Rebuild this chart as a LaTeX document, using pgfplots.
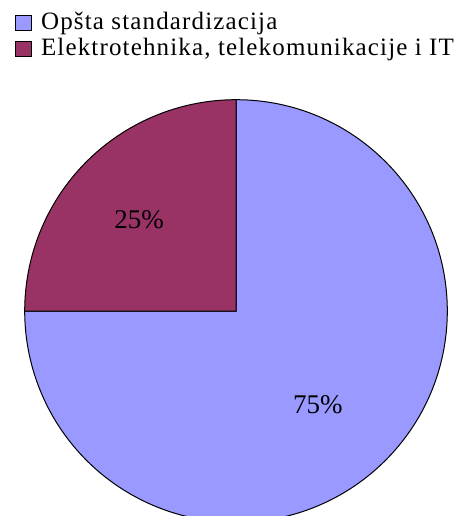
\documentclass[border=0pt]{standalone}
\usepackage{pgfplots}
\pgfplotsset{compat=1.18}
\usepackage{pgfplotstable}
\usepackage{fontspec}
\setmainfont{Liberation Serif}
\newfontfamily\legfont[LetterSpace=4.6]{Liberation Serif}
\definecolor{sliceA}{HTML}{9999FF}
\definecolor{sliceB}{HTML}{993366}
\pgfplotstableread{
label value
A 75
B 25
}\piedata
\begin{document}
\begin{tikzpicture}[x=1pt,y=1pt]
\useasboundingbox (0,0) rectangle (460,-516);
\begin{axis}[
  hide axis, scale only axis, width=422.6pt, height=422.6pt,
  xmin=-1, xmax=1, ymin=-1, ymax=1, clip=false,
  at={(236pt,-311pt)}, anchor=center,
  legend cell align=left,
  legend image code/.code={\draw[#1] (0pt,-7.5pt) rectangle (16pt,7.5pt);},
  legend style={draw=none, fill=none, inner sep=0pt, at={(axis cs:-1.046,1.425)}, anchor=north west,
    font=\legfont\fontsize{25}{27}\selectfont, row sep=0pt, column sep=8pt,
    nodes={inner sep=1pt, text height=18pt, text depth=6pt}},
]
\pgfplotstablegetelem{0}{value}\of\piedata \let\va\pgfplotsretval
\pgfplotstablegetelem{1}{value}\of\piedata \let\vb\pgfplotsretval
\addlegendimage{fill=sliceA, draw=black, line width=0.9pt}
\addlegendentry{Opšta standardizacija}
\addlegendimage{fill=sliceB, draw=black, line width=0.9pt}
\addlegendentry{Elektrotehnika, telekomunikacije i IT}
\pgfmathsetmacro\endA{90-3.6*\va}
\pgfmathsetmacro\endB{90+3.6*\vb}
\filldraw[fill=sliceA, draw=black, line width=1pt] (axis cs:0,0) -- (axis cs:0,1) arc[start angle=90, end angle=\endA, radius=211.3pt] -- cycle;
\filldraw[fill=sliceB, draw=black, line width=1pt] (axis cs:0,0) -- (axis cs:0,1) arc[start angle=90, end angle=\endB, radius=211.3pt] -- cycle;
\node[font=\fontsize{27}{30}\selectfont] at (axis cs:-0.459,0.431) {25\%};
\node[font=\fontsize{27}{30}\selectfont] at (axis cs:0.388,-0.445) {75\%};
\end{axis}
\end{tikzpicture}
\end{document}
